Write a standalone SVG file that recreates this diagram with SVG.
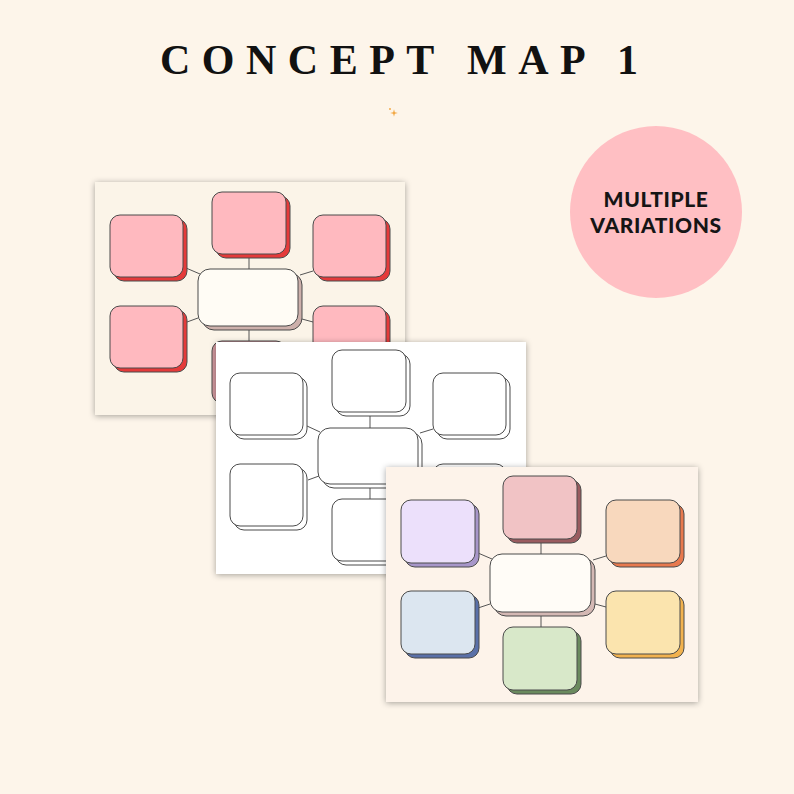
<svg xmlns="http://www.w3.org/2000/svg" width="794" height="794" viewBox="0 0 794 794">
<style>
.title{font-family:"Liberation Serif","Times New Roman",serif;font-weight:bold;font-size:42px;letter-spacing:11.5px;fill:#111}
.badge{font-family:Lato,"Open Sans",sans-serif;font-weight:900;font-size:21px;letter-spacing:0.6px;fill:#151515;text-anchor:middle}
.nd{stroke:#4a4a4a;stroke-width:1}
.ln{stroke:#555;stroke-width:1;fill:none}
</style>
<defs>
<filter id="ds" x="-10%" y="-10%" width="120%" height="120%">
<feDropShadow dx="0" dy="1" stdDeviation="3" flood-color="#000" flood-opacity="0.35"/>
</filter>
</defs>
<rect width="794" height="794" fill="#fdf5ea"/>
<text class="title" x="160" y="74">CONCEPT MAP 1</text>
<path d="M394 106 L395.4 111.6 L401 113 L395.4 114.4 L394 120 L392.6 114.4 L387 113 L392.6 111.6 Z" fill="#f2a33a" transform="translate(394 113) scale(0.55) translate(-394 -113)"/>
<circle cx="390" cy="109" r="0.9" fill="#f2a33a"/>
<g id="badge">
<circle cx="656" cy="212" r="86" fill="#ffbfc3"/>
<text class="badge" x="656" y="207">MULTIPLE</text>
<text class="badge" x="656" y="233">VARIATIONS</text>
</g>

<!-- Sheet 1 -->
<g id="sheet1" transform="translate(95,182)">
<rect width="310" height="233" fill="#fbf4e8" filter="url(#ds)"/>
<g id="s1-connectors">
<line class="ln" x1="154" y1="68" x2="154" y2="87"/>
<line class="ln" x1="91" y1="86" x2="105" y2="92"/>
<line class="ln" x1="205" y1="93" x2="218" y2="89"/>
<line class="ln" x1="92" y1="140" x2="103" y2="136"/>
<line class="ln" x1="207" y1="137" x2="218" y2="140"/>
<line class="ln" x1="154" y1="144" x2="154" y2="159"/>
</g>
<g id="s1-tl"><rect class="nd" x="19" y="37" width="73" height="62" rx="10" fill="#e53a3a"/><rect class="nd" x="15" y="33" width="73" height="62" rx="10" fill="#ffb9bf"/></g>
<g id="s1-tc"><rect class="nd" x="121" y="14" width="74" height="62" rx="10" fill="#e53a3a"/><rect class="nd" x="117" y="10" width="74" height="62" rx="10" fill="#ffb9bf"/></g>
<g id="s1-tr"><rect class="nd" x="222" y="37" width="73" height="62" rx="10" fill="#e53a3a"/><rect class="nd" x="218" y="33" width="73" height="62" rx="10" fill="#ffb9bf"/></g>
<g id="s1-c"><rect class="nd" x="107" y="91" width="100" height="57" rx="12" fill="#cdb0ab"/><rect class="nd" x="103" y="87" width="100" height="57" rx="12" fill="#fffcf5"/></g>
<g id="s1-bl"><rect class="nd" x="19" y="128" width="73" height="62" rx="10" fill="#e53a3a"/><rect class="nd" x="15" y="124" width="73" height="62" rx="10" fill="#ffb9bf"/></g>
<g id="s1-bc"><rect class="nd" x="121" y="163" width="74" height="62" rx="10" fill="#a2585e"/><rect class="nd" x="117" y="159" width="74" height="62" rx="10" fill="#d49aa0"/></g>
<g id="s1-br"><rect class="nd" x="222" y="128" width="73" height="62" rx="10" fill="#e53a3a"/><rect class="nd" x="218" y="124" width="73" height="62" rx="10" fill="#ffb9bf"/></g>
</g>

<!-- Sheet 2 -->
<g id="sheet2" transform="translate(216,342)">
<rect width="310" height="232" fill="#ffffff" filter="url(#ds)"/>
<g id="s2-connectors">
<line class="ln" x1="154" y1="70" x2="154" y2="86"/>
<line class="ln" x1="91" y1="84" x2="104" y2="90"/>
<line class="ln" x1="204" y1="91" x2="217" y2="87"/>
<line class="ln" x1="92" y1="138" x2="103" y2="134"/>
<line class="ln" x1="206" y1="135" x2="217" y2="138"/>
<line class="ln" x1="154" y1="142" x2="154" y2="157"/>
</g>
<g id="s2-tl"><rect class="nd" x="18" y="35" width="73" height="62" rx="10" fill="#fff"/><rect class="nd" x="14" y="31" width="73" height="62" rx="10" fill="#fff"/></g>
<g id="s2-tc"><rect class="nd" x="120" y="12" width="74" height="62" rx="10" fill="#fff"/><rect class="nd" x="116" y="8" width="74" height="62" rx="10" fill="#fff"/></g>
<g id="s2-tr"><rect class="nd" x="221" y="35" width="73" height="62" rx="10" fill="#fff"/><rect class="nd" x="217" y="31" width="73" height="62" rx="10" fill="#fff"/></g>
<g id="s2-c"><rect class="nd" x="106" y="90" width="100" height="56" rx="12" fill="#fff"/><rect class="nd" x="102" y="86" width="100" height="56" rx="12" fill="#fff"/></g>
<g id="s2-bl"><rect class="nd" x="18" y="126" width="73" height="62" rx="10" fill="#fff"/><rect class="nd" x="14" y="122" width="73" height="62" rx="10" fill="#fff"/></g>
<g id="s2-bc"><rect class="nd" x="120" y="161" width="74" height="62" rx="10" fill="#fff"/><rect class="nd" x="116" y="157" width="74" height="62" rx="10" fill="#fff"/></g>
<g id="s2-br"><rect class="nd" x="221" y="126" width="73" height="62" rx="10" fill="#fff"/><rect class="nd" x="217" y="122" width="73" height="62" rx="10" fill="#fff"/></g>
</g>

<!-- Sheet 3 -->
<g id="sheet3" transform="translate(386,467)">
<rect width="312" height="235" fill="#fdf3ea" filter="url(#ds)"/>
<g id="s3-connectors">
<line class="ln" x1="155" y1="72" x2="155" y2="87"/>
<line class="ln" x1="92" y1="86" x2="106" y2="92"/>
<line class="ln" x1="207" y1="93" x2="220" y2="89"/>
<line class="ln" x1="92" y1="141" x2="104" y2="137"/>
<line class="ln" x1="209" y1="137" x2="220" y2="140"/>
<line class="ln" x1="155" y1="145" x2="155" y2="160"/>
</g>
<g id="s3-tl"><rect class="nd" x="19" y="37" width="74" height="63" rx="10" fill="#a796c9"/><rect class="nd" x="15" y="33" width="74" height="63" rx="10" fill="#ece0fb"/></g>
<g id="s3-tc"><rect class="nd" x="121" y="13" width="74" height="63" rx="10" fill="#9a5b5f"/><rect class="nd" x="117" y="9" width="74" height="63" rx="10" fill="#f1c3c5"/></g>
<g id="s3-tr"><rect class="nd" x="224" y="37" width="74" height="63" rx="10" fill="#e8794e"/><rect class="nd" x="220" y="33" width="74" height="63" rx="10" fill="#f8d8bd"/></g>
<g id="s3-c"><rect class="nd" x="108" y="91" width="101" height="58" rx="12" fill="#d4b8b4"/><rect class="nd" x="104" y="87" width="101" height="58" rx="12" fill="#fffcf7"/></g>
<g id="s3-bl"><rect class="nd" x="19" y="128" width="74" height="63" rx="10" fill="#5a70a8"/><rect class="nd" x="15" y="124" width="74" height="63" rx="10" fill="#dce6f0"/></g>
<g id="s3-bc"><rect class="nd" x="121" y="164" width="74" height="63" rx="10" fill="#6a8a5e"/><rect class="nd" x="117" y="160" width="74" height="63" rx="10" fill="#d8e8c9"/></g>
<g id="s3-br"><rect class="nd" x="224" y="128" width="74" height="63" rx="10" fill="#f2b24f"/><rect class="nd" x="220" y="124" width="74" height="63" rx="10" fill="#fbe4ae"/></g>
</g>
</svg>
